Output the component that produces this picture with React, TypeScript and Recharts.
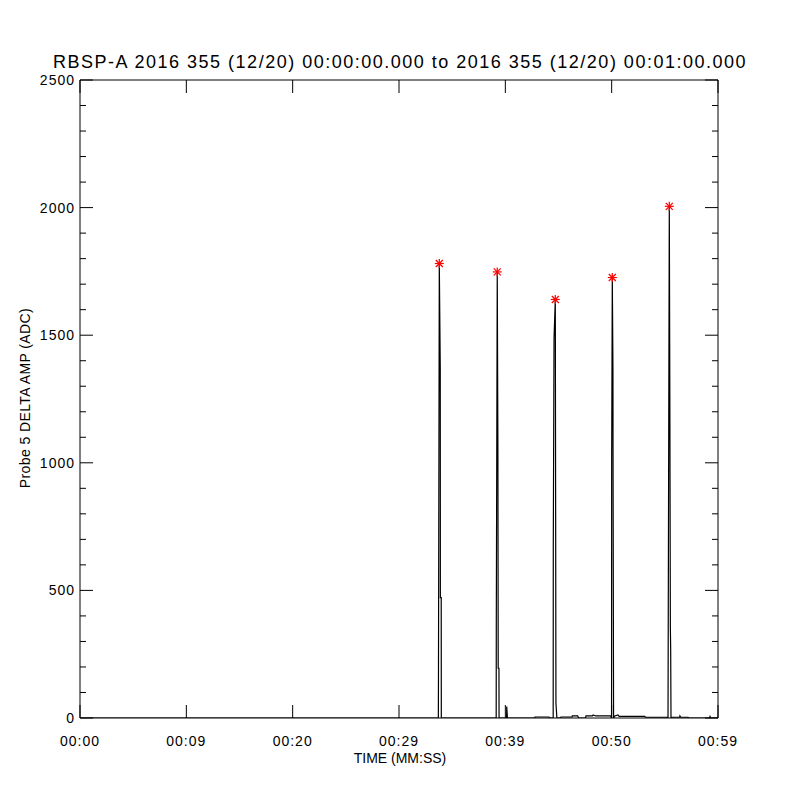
import { ComposedChart, Line, Scatter, XAxis, YAxis } from "recharts";

// samples (seconds since 00:00:00, ADC)
const timeSec = [
  0, 33.6, 33.7, 33.71, 33.79, 33.88, 33.89, 33.97, 33.98, 39.14, 39.15, 39.24, 39.3, 39.33, 39.4, 39.41,
  40.12, 40.13, 40.2, 42.78, 42.79, 44.1, 44.2, 44.5, 44.51, 44.58, 44.7, 44.76, 44.85, 45.2, 45.23, 46.27,
  46.3, 46.8, 46.9, 47.55, 47.58, 48.2, 48.25, 48.5, 49.9, 49.99, 50.0, 50.06, 50.12, 50.13, 50.18, 50.3,
  50.6, 50.7, 53.1, 53.2, 55.2, 55.3, 55.32, 55.42, 55.47, 55.52, 55.55, 55.58, 55.67, 56.4, 56.42, 56.5,
  57.18, 57.25, 59.2, 59.25, 59.3, 60,
];
const amplitude = [
  0, 0, 0, 127, 1781, 1370, 472, 472, 0, 0, 359, 1748, 1072, 195, 195, 0,
  0, 45, 0, 0, 4, 4, 0, 0, 676, 1487, 1640, 57, 0, 0, 4, 4,
  8, 8, 0, 0, 8, 8, 12, 8, 8, 0, 1011, 1726, 1367, 1011, 0, 8,
  12, 6, 6, 3, 3, 0, 356, 2005, 1269, 356, 267, 0, 3, 3, 8, 3,
  3, 0, 0, 6, 0, 0,
];

const peakTimes = [33.79, 39.24, 44.7, 50.06, 55.42];
const peakValues = [1781, 1748, 1640, 1726, 2005];

const xTickValues = [0, 10, 20, 30, 40, 50, 60];
const xTickLabels = ["00:00", "00:09", "00:20", "00:29", "00:39", "00:50", "00:59"];
const yTicks = Array.from({ length: 26 }, (_, i) => i * 100);

const series = timeSec.map((t, i) => ({ t, v: amplitude[i] }));
const peaks = peakTimes.map((t, i) => ({ t, v: peakValues[i] }));

const FONT = "'Liberation Sans', Arial, sans-serif";
const MAJOR = 13;
const MINOR = 6;

const BottomTick = (props: any) => {
  const { x, y, index } = props;
  return (
    <g>
      <line x1={x} y1={y} x2={x} y2={y - MAJOR} stroke="#000" />
      <text x={x} y={y + 28} textAnchor="middle" fontSize={14} letterSpacing={1} fontFamily={FONT} fill="#000">
        {xTickLabels[index]}
      </text>
    </g>
  );
};

const TopTick = (props: any) => {
  const { x, y } = props;
  return <line x1={x} y1={y} x2={x} y2={y + MAJOR} stroke="#000" />;
};

const LeftTick = (props: any) => {
  const { x, y, payload } = props;
  const major = payload.value % 500 === 0;
  return (
    <g>
      <line x1={x} y1={y} x2={x + (major ? MAJOR : MINOR)} y2={y} stroke="#000" />
      {major && (
        <text x={x - 5} y={y + 5} textAnchor="end" fontSize={14} letterSpacing={1} fontFamily={FONT} fill="#000">
          {payload.value}
        </text>
      )}
    </g>
  );
};

const RightTick = (props: any) => {
  const { x, y, payload } = props;
  const major = payload.value % 500 === 0;
  return <line x1={x} y1={y} x2={x - (major ? MAJOR : MINOR)} y2={y} stroke="#000" />;
};

const Asterisk = (props: any) => {
  const { cx, cy } = props;
  const r = 4.5;
  const d = 3.5;
  return (
    <g stroke="#ff0000" strokeWidth={1.2}>
      <line x1={cx - r} y1={cy} x2={cx + r} y2={cy} />
      <line x1={cx} y1={cy - r} x2={cx} y2={cy + r} />
      <line x1={cx - d} y1={cy - d} x2={cx + d} y2={cy + d} />
      <line x1={cx - d} y1={cy + d} x2={cx + d} y2={cy - d} />
    </g>
  );
};

export default function App() {
  return (
    <div style={{ position: "absolute", left: 0, top: 0, width: 800, height: 800, background: "#fff" }}>
      <ComposedChart width={800} height={800} margin={{ top: 60, right: 62, bottom: 62, left: 60 }}>
        <XAxis
          xAxisId="b"
          type="number"
          dataKey="t"
          domain={[0, 60]}
          ticks={xTickValues}
          interval={0}
          tick={<BottomTick />}
          tickLine={false}
          tickSize={0}
          tickMargin={0}
          height={20}
          axisLine={{ stroke: "#000" }}
          allowDataOverflow
        />
        <XAxis
          xAxisId="t"
          orientation="top"
          type="number"
          dataKey="t"
          domain={[0, 60]}
          ticks={xTickValues}
          interval={0}
          tick={<TopTick />}
          tickLine={false}
          tickSize={0}
          tickMargin={0}
          height={20}
          axisLine={{ stroke: "#000" }}
          allowDataOverflow
        />
        <YAxis
          yAxisId="l"
          type="number"
          dataKey="v"
          domain={[0, 2500]}
          ticks={yTicks}
          interval={0}
          tick={<LeftTick />}
          tickLine={false}
          tickSize={0}
          tickMargin={0}
          width={20}
          axisLine={{ stroke: "#000" }}
          allowDataOverflow
        />
        <YAxis
          yAxisId="r"
          orientation="right"
          type="number"
          dataKey="v"
          domain={[0, 2500]}
          ticks={yTicks}
          interval={0}
          tick={<RightTick />}
          tickLine={false}
          tickSize={0}
          tickMargin={0}
          width={20}
          axisLine={{ stroke: "#000" }}
          allowDataOverflow
        />
        <Line
          xAxisId="t"
          yAxisId="r"
          data={series}
          dataKey="v"
          stroke="none"
          dot={false}
          activeDot={false}
          isAnimationActive={false}
        />
        <Line
          xAxisId="b"
          yAxisId="l"
          data={series}
          dataKey="v"
          type="linear"
          stroke="#000"
          strokeWidth={1.2}
          dot={false}
          activeDot={false}
          isAnimationActive={false}
        />
        <Scatter
          xAxisId="b"
          yAxisId="l"
          data={peaks}
          dataKey="v"
          shape={<Asterisk />}
          isAnimationActive={false}
        />
        <text x={400} y={68} textAnchor="middle" fontSize={18} letterSpacing={1.5} fontFamily={FONT} fill="#000">
          RBSP-A 2016 355 (12/20) 00:00:00.000 to 2016 355 (12/20) 00:01:00.000
        </text>
        <text x={400} y={763} textAnchor="middle" fontSize={14} fontFamily={FONT} fill="#000">
          TIME (MM:SS)
        </text>
        <text
          x={30}
          y={398}
          textAnchor="middle"
          fontSize={14}
          letterSpacing={0.4}
          fontFamily={FONT}
          fill="#000"
          transform="rotate(-90 30 398)"
        >
          Probe 5 DELTA AMP (ADC)
        </text>
      </ComposedChart>
    </div>
  );
}
